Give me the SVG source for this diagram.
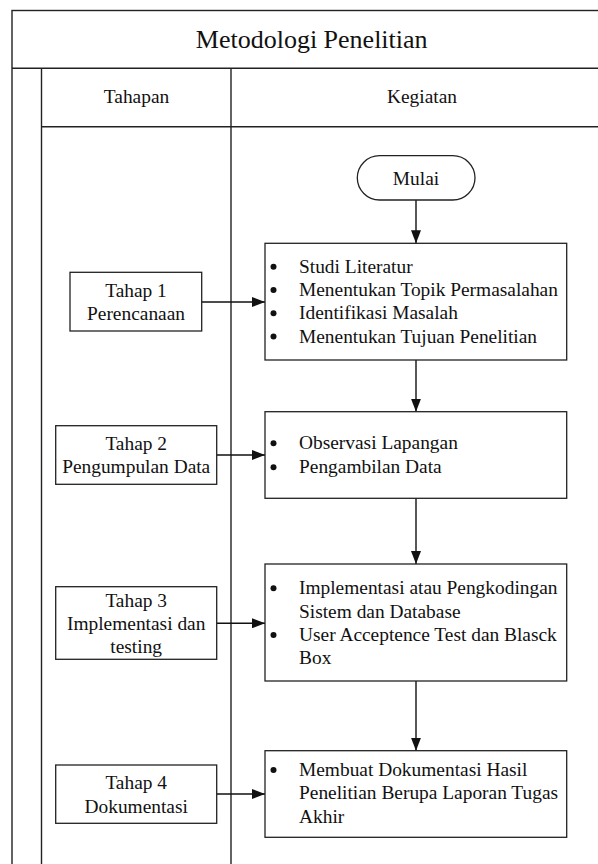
<svg xmlns="http://www.w3.org/2000/svg" width="598" height="864" viewBox="0 0 598 864">
  <style>
    .ln { stroke: #222; stroke-width: 1.4; fill: none; }
    .box { stroke: #222; stroke-width: 1.3; fill: #fff; }
    .t { font-family: "Liberation Serif", "Times New Roman", serif; font-size: 19.4px; fill: #111; }
    .c { text-anchor: middle; }
    .title { font-family: "Liberation Serif", "Times New Roman", serif; font-size: 26px; fill: #111; text-anchor: middle; }
    .bul { fill: #111; }
    .conn { stroke: #111; stroke-width: 1.4; fill: none; }
  </style>
  <defs>
    <marker id="ah" viewBox="0 0 13 10" refX="13" refY="5" markerWidth="13" markerHeight="10" markerUnits="userSpaceOnUse" orient="auto">
      <path d="M0,0 L13,5 L0,10 Z" fill="#111"/>
    </marker>
  </defs>
  <rect width="598" height="864" fill="#fff"/>

  <g id="frame">
    <rect class="ln" x="12" y="10.5" width="600" height="900"/>
    <line class="ln" x1="12" y1="68.3" x2="612" y2="68.3"/>
    <line class="ln" x1="41.5" y1="68.3" x2="41.5" y2="900"/>
    <line class="ln" x1="231" y1="68.3" x2="231" y2="900"/>
    <line class="ln" x1="41.5" y1="126.7" x2="612" y2="126.7" stroke="#555"/>
    <text class="title" x="311.7" y="47.5">Metodologi Penelitian</text>
    <text class="t c" x="136.5" y="103.3">Tahapan</text>
    <text class="t c" x="422" y="103.3">Kegiatan</text>
  </g>

  <g id="connectors">
    <line class="conn" x1="416" y1="200" x2="416" y2="243.3" marker-end="url(#ah)"/>
    <line class="conn" x1="416" y1="360" x2="416" y2="411.7" marker-end="url(#ah)"/>
    <line class="conn" x1="416" y1="498.3" x2="416" y2="564" marker-end="url(#ah)"/>
    <line class="conn" x1="416" y1="681" x2="416" y2="750.7" marker-end="url(#ah)"/>
    <line class="conn" x1="201.7" y1="302" x2="265" y2="302" marker-end="url(#ah)"/>
    <line class="conn" x1="216.7" y1="455" x2="265" y2="455" marker-end="url(#ah)"/>
    <line class="conn" x1="216.7" y1="623.3" x2="265" y2="623.3" marker-end="url(#ah)"/>
    <line class="conn" x1="216.7" y1="794" x2="265" y2="794" marker-end="url(#ah)"/>
  </g>

  <g id="mulai">
    <rect class="box" x="357.3" y="155.7" width="117.7" height="44.3" rx="22.2" ry="22.2"/>
    <text class="t c" x="416" y="184.5">Mulai</text>
  </g>

  <g id="tahap1">
    <rect class="box" x="70" y="272.3" width="131.7" height="58.7"/>
    <text class="t c" x="136" y="296.5">Tahap 1</text>
    <text class="t c" x="136" y="319.5">Perencanaan</text>
  </g>

  <g id="tahap2">
    <rect class="box" x="55.7" y="425.7" width="161" height="58.6"/>
    <text class="t c" x="136.2" y="450">Tahap 2</text>
    <text class="t c" x="136.2" y="473">Pengumpulan Data</text>
  </g>

  <g id="tahap3">
    <rect class="box" x="55.7" y="586.7" width="161" height="72.6"/>
    <text class="t c" x="136.2" y="606.5">Tahap 3</text>
    <text class="t c" x="136.2" y="629.5">Implementasi dan</text>
    <text class="t c" x="136.2" y="652.5">testing</text>
  </g>

  <g id="tahap4">
    <rect class="box" x="55.7" y="765" width="161" height="58.3"/>
    <text class="t c" x="136.2" y="789.3">Tahap 4</text>
    <text class="t c" x="136.2" y="812.7">Dokumentasi</text>
  </g>

  <g id="kegiatan1">
    <rect class="box" x="265" y="243.3" width="301.7" height="116.7"/>
    <circle class="bul" cx="273.5" cy="266.7" r="3"/>
    <circle class="bul" cx="273.5" cy="290" r="3"/>
    <circle class="bul" cx="273.5" cy="313.3" r="3"/>
    <circle class="bul" cx="273.5" cy="336.6" r="3"/>
    <text class="t" x="299" y="272.7">Studi Literatur</text>
    <text class="t" x="299" y="296">Menentukan Topik Permasalahan</text>
    <text class="t" x="299" y="319.3">Identifikasi Masalah</text>
    <text class="t" x="299" y="342.6">Menentukan Tujuan Penelitian</text>
  </g>

  <g id="kegiatan2">
    <rect class="box" x="265" y="411.7" width="301.7" height="86.6"/>
    <circle class="bul" cx="273.5" cy="443.2" r="3"/>
    <circle class="bul" cx="273.5" cy="467.2" r="3"/>
    <text class="t" x="299" y="449.2">Observasi Lapangan</text>
    <text class="t" x="299" y="473.2">Pengambilan Data</text>
  </g>

  <g id="kegiatan3">
    <rect class="box" x="265" y="564" width="301.7" height="117"/>
    <circle class="bul" cx="273.5" cy="588.3" r="3"/>
    <circle class="bul" cx="273.5" cy="635" r="3"/>
    <text class="t" x="299" y="594.3">Implementasi atau Pengkodingan</text>
    <text class="t" x="299" y="617.6">Sistem dan Database</text>
    <text class="t" x="299" y="640.9">User Acceptence Test dan Blasck</text>
    <text class="t" x="299" y="664.2">Box</text>
  </g>

  <g id="kegiatan4">
    <rect class="box" x="265" y="750.7" width="301.7" height="86.6"/>
    <circle class="bul" cx="273.5" cy="770" r="3"/>
    <text class="t" x="299" y="775.8">Membuat Dokumentasi Hasil</text>
    <text class="t" x="299" y="799.4">Penelitian Berupa Laporan Tugas</text>
    <text class="t" x="299" y="823">Akhir</text>
  </g>
</svg>
